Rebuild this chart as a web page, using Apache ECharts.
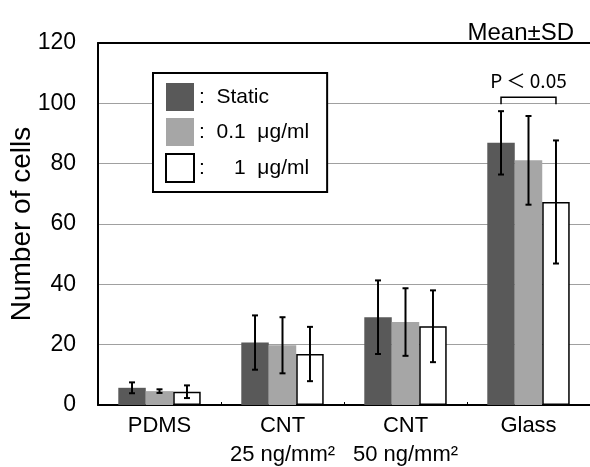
<!DOCTYPE html>
<html>
<head>
<meta charset="utf-8">
<script src="https://cdn.jsdelivr.net/npm/echarts@6/dist/echarts.min.js"></script>
<style>
  html, body { margin: 0; padding: 0; background: #fff; }
  #main { width: 590px; height: 467px; }
</style>
</head>
<body>
<div id="main"></div>
<script>
// 数据
var categories = ['PDMS', 'CNT\n25 ng/mm²', 'CNT\n50 ng/mm²', 'Glass'];
var seriesNames = ['Static', '0.1 μg/ml', '1 μg/ml'];
var legendLabels = [':  Static', ':  0.1  μg/ml', ':     1  μg/ml'];
var staticMean = [5.7, 20.7, 29.1, 86.9];
var staticSD = [1.8, 9.0, 12.2, 10.5];
var lowMean = [4.6, 19.8, 27.5, 81.1];
var lowSD = [0.6, 9.3, 11.2, 14.7];
var highMean = [4.4, 16.9, 26.1, 67.3];
var highSD = [2.1, 9.0, 11.9, 20.4];
var yTicks = [0, 20, 40, 60, 80, 100, 120];
var sigLabel = 'P ＜ 0.05';
var sigPair = [0, 2]; // Static vs 1 μg/ml, Glass
var sigCat = 3;
var sigLevel = 100;

var fontFamily = '"Liberation Sans", Arial, "Noto Sans CJK JP", sans-serif';
var gapRatio = 0.33;
var colors = ['#595959', '#a6a6a6', '#ffffff'];

var means = [staticMean, lowMean, highMean];
var sds = [staticSD, lowSD, highSD];

function errRender(idx) {
  return function (params, api) {
    var cat = api.value(0);
    var lo = api.value(1);
    var hi = api.value(2);
    var band = api.size([1, 0])[0];
    var barW = band * (1 - gapRatio) / 3;
    var cx = api.coord([cat, 0])[0] + (idx - 1) * barW;
    var yTop = api.coord([cat, hi])[1];
    var yBot = api.coord([cat, lo])[1];
    var st = { stroke: '#000', lineWidth: 2 };
    return {
      type: 'group',
      children: [
        { type: 'line', shape: { x1: cx, y1: yTop, x2: cx, y2: yBot }, style: st },
        { type: 'line', shape: { x1: cx - 3, y1: yTop, x2: cx + 3, y2: yTop }, style: st },
        { type: 'line', shape: { x1: cx - 3, y1: yBot, x2: cx + 3, y2: yBot }, style: st }
      ]
    };
  };
}

var series = [];
for (var i = 0; i < 3; i++) {
  series.push({
    name: seriesNames[i],
    type: 'bar',
    data: means[i],
    barGap: '0%',
    barCategoryGap: (gapRatio * 100) + '%',
    itemStyle: {
      color: colors[i],
      borderColor: i === 2 ? '#000' : colors[i],
      borderWidth: i === 2 ? 1.5 : 0
    }
  });
}
for (var j = 0; j < 3; j++) {
  var errData = means[j].map(function (m, k) {
    return [k, m - sds[j][k], m + sds[j][k]];
  });
  series.push({
    type: 'custom',
    renderItem: errRender(j),
    data: errData,
    z: 5,
    silent: true,
    encode: { x: 0, y: [1, 2] }
  });
}

var option = {
  animation: false,
  backgroundColor: '#fff',
  textStyle: { fontFamily: fontFamily, color: '#000' },
  title: {
    text: 'Mean±SD',
    right: 11,
    top: 16,
    textStyle: { fontFamily: fontFamily, fontSize: 24, fontWeight: 'normal', color: '#000' }
  },
  legend: {
    data: seriesNames,
    orient: 'vertical',
    left: 153,
    top: 73,
    padding: [10, 18, 9, 12],
    backgroundColor: '#fff',
    borderColor: '#000',
    borderWidth: 2,
    borderRadius: 0,
    itemWidth: 28,
    itemHeight: 28,
    itemGap: 7,
    icon: 'rect',
    formatter: function (name) {
      return legendLabels[seriesNames.indexOf(name)];
    },
    textStyle: { fontFamily: fontFamily, fontSize: 21, color: '#000' }
  },
  grid: { left: 98, right: 0, top: 43, bottom: 62, outerBoundsMode: 'none' },
  xAxis: [{
    type: 'category',
    data: categories,
    axisLine: { lineStyle: { color: '#000', width: 2 } },
    axisTick: { show: true, inside: true, length: 3, lineStyle: { color: '#000', width: 1 } },
    axisLabel: { interval: 0, fontFamily: fontFamily, fontSize: 22, color: '#000', margin: 6, lineHeight: 29 }
  }, {
    type: 'category',
    position: 'top',
    data: categories,
    axisLine: { lineStyle: { color: '#000', width: 2 } },
    axisTick: { show: false },
    axisLabel: { show: false }
  }],
  yAxis: {
    type: 'value',
    min: yTicks[0],
    max: yTicks[yTicks.length - 1],
    interval: yTicks[1] - yTicks[0],
    name: 'Number of cells',
    nameLocation: 'middle',
    nameGap: 62,
    nameMoveOverlap: false,
    nameTextStyle: { fontFamily: fontFamily, fontSize: 28, color: '#000' },
    axisLine: { show: true, lineStyle: { color: '#000', width: 2 } },
    axisTick: { show: false },
    splitLine: { lineStyle: { color: '#a0a0a0', width: 1 } },
    axisLabel: { fontFamily: fontFamily, fontSize: 23, color: '#000', margin: 22 }
  },
  series: series
};

var myChart = echarts.init(document.getElementById('main'));
myChart.setOption(option);

// 显著性标注
var c0 = myChart.convertToPixel({ xAxisIndex: 0, yAxisIndex: 0 }, [sigCat, sigLevel]);
var c1 = myChart.convertToPixel({ xAxisIndex: 0, yAxisIndex: 0 }, [sigCat + 1, sigLevel]);
var band = c1[0] - c0[0];
var bw = band * (1 - gapRatio) / 3;
var xa = c0[0] + (sigPair[0] - 1) * bw;
var xb = c0[0] + (sigPair[1] - 1) * bw;
var yb = c0[1];
myChart.setOption({
  graphic: [
    {
      type: 'polyline',
      shape: { points: [[xa, yb + 1], [xa, yb - 6], [xb, yb - 6], [xb, yb + 1]] },
      style: { stroke: '#000', lineWidth: 1.5, fill: null },
      z: 10
    },
    {
      type: 'text',
      x: (xa + xb) / 2,
      y: yb - 13,
      style: {
        text: sigLabel,
        fontFamily: '"Noto Sans CJK JP", sans-serif',
        fontSize: 19,
        fill: '#000',
        align: 'center',
        verticalAlign: 'bottom'
      },
      z: 10
    }
  ]
});
</script>
</body>
</html>
